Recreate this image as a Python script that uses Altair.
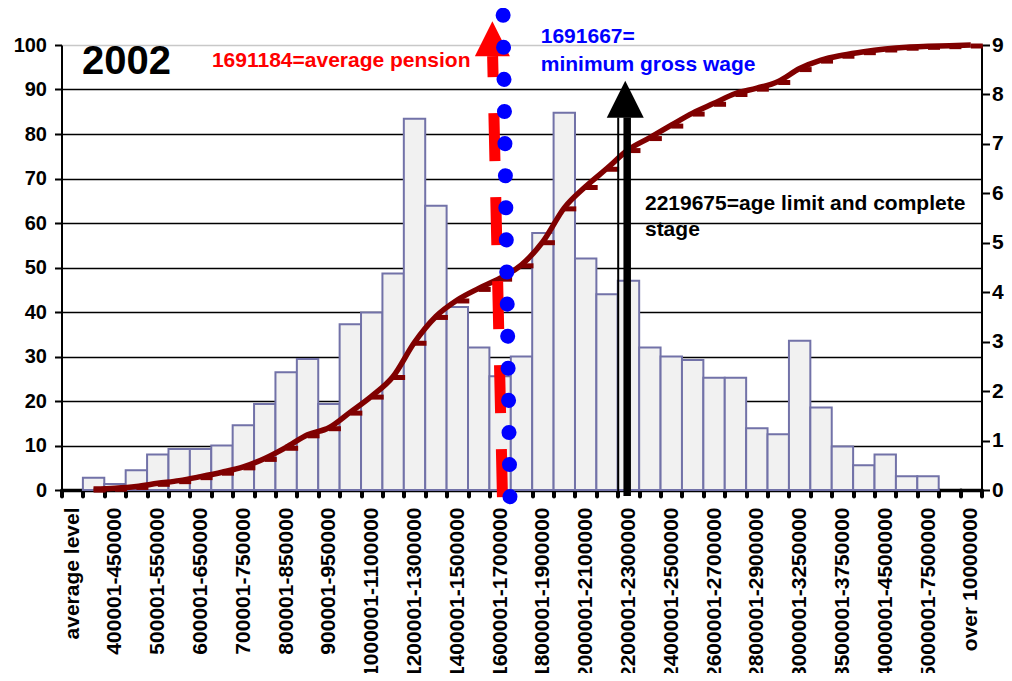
import json
import altair as alt
import pandas as pd

# ---------------- data ----------------
categories = [
    "average level", "350001-400000", "400001-450000", "450001-500000",
    "500001-550000", "550001-600000", "600001-650000", "650001-700000",
    "700001-750000", "750001-800000", "800001-850000", "850001-900000",
    "900001-950000", "950001-1000000", "1000001-1100000", "1100001-1200000",
    "1200001-1300000", "1300001-1400000", "1400001-1500000", "1500001-1600000",
    "1600001-1700000", "1700001-1800000", "1800001-1900000", "1900001-2000000",
    "2000001-2100000", "2100001-2200000", "2200001-2300000", "2300001-2400000",
    "2400001-2500000", "2500001-2600000", "2600001-2700000", "2700001-2800000",
    "2800001-2900000", "2900001-3000000", "3000001-3250000", "3250001-3500000",
    "3500001-3750000", "3750001-4000000", "4000001-4500000", "4500001-5000000",
    "5000001-7500000", "7500001-10000000", "over 10000000",
]

# share of pensioners in each band (%), right axis
bar_pct = [
    None, 0.25, 0.12, 0.40, 0.72, 0.83, 0.83, 0.90, 1.31, 1.74,
    2.38, 2.65, 1.74, 3.35, 3.59, 4.38, 7.51, 5.75, 3.70, 2.88,
    2.30, 2.70, 5.20, 7.63, 4.68, 3.96, 4.23, 2.88, 2.70, 2.63,
    2.27, 2.27, 1.25, 1.13, 3.02, 1.67, 0.88, 0.50, 0.72, 0.28,
    0.28, None, None,
]

# cumulative share (%), left axis
cum_pct = [
    None, 0.2, 0.4, 0.8, 1.5, 2.1, 3.0, 4.0, 5.2, 7.1,
    9.6, 12.4, 14.0, 17.5, 21.1, 25.5, 33.2, 39.0, 42.7, 45.3,
    47.6, 50.6, 55.8, 63.4, 68.2, 72.3, 76.5, 79.2, 82.0, 84.7,
    86.9, 89.1, 90.3, 91.8, 94.7, 96.6, 97.7, 98.5, 99.1, 99.5,
    99.7, 99.85, 100.0,
]

left_ticks = list(range(0, 101, 10))
right_ticks = list(range(0, 10))

# annotation anchors, in (category units, left-axis %)
pension_line = {"x": [20.61], "x2": [20.15], "y": [-1.58], "y2": [97.5]}
pension_head = {"x": [20.14], "y": [101.4]}
wage_line = {"x": [20.96], "x2": [20.64], "y": [-1.51], "y2": [106.8]}
age_thin = {"x": [26.02], "y": [-1.35], "y2": [83.7]}
age_thick = {"x": [26.44], "y": [-1.35], "y2": [83.7]}
age_head = {"x": [26.35], "y": [87.8]}
year_text = {"x": [0.96], "y": [93.4], "t": ["2002"]}
pension_text = {"x": [7.03], "y": [95.0], "t": ["1691184=average pension"]}
wage_text = {"x": [22.4, 22.4], "y": [100.5, 94.1], "t": ["1691667=", "minimum gross wage"]}
age_text = {"x": [27.27, 27.27], "y": [63.0, 57.0], "t": ["2219675=age limit and complete", "stage"]}

# ---------------- chart ----------------
FONT = "Liberation Sans"
N = len(categories)
df = pd.DataFrame({"idx": list(range(N)), "category": categories,
                   "pct": bar_pct, "cum": cum_pct})

xscale = alt.Scale(domain=[0, N], nice=False, zero=False)
yleft = alt.Scale(domain=[0, 100], nice=False, zero=False)
yright = alt.Scale(domain=[0, 9], nice=False, zero=False)

base = alt.Chart(df).transform_calculate(
    x0="datum.idx", x1="datum.idx + 1", xc="datum.idx + 0.5"
)

tick_axis = alt.Axis(
    orient="bottom", values=list(range(N + 1)), labels=False, title=None,
    grid=False, tickSize=6, tickWidth=4, tickCap="round", tickColor="black",
    domainColor="black", domainWidth=3.5,
)
label_axis = alt.Axis(
    orient="bottom", values=[i + 0.5 for i in range(0, N, 2)],
    labelExpr=json.dumps(categories) + "[floor(datum.value)]",
    ticks=False, tickSize=0, domain=False, grid=False, title=None,
    labelAngle=-90, labelPadding=17, labelFont=FONT, labelFontSize=21,
    labelFontWeight="bold", labelColor="black", labelOverlap=False,
    labelFlush=False,
)
left_axis = alt.Axis(
    orient="left", values=left_ticks, title=None, grid=True,
    gridColor={"condition": {"test": "datum.value === 100", "value": "#c8c8c8"},
               "value": "black"},
    gridWidth=1.6, tickSize=7, tickWidth=2, tickColor="black",
    domainColor="black", domainWidth=2, labelPadding=8, labelFont=FONT,
    labelFontSize=20, labelFontWeight="bold", labelColor="black",
)
right_axis = alt.Axis(
    orient="right", values=right_ticks, title=None, grid=False,
    tickSize=8, tickWidth=2, tickColor="black", domainColor="black",
    domainWidth=2, labelPadding=2, labelFont=FONT, labelFontSize=21,
    labelFontWeight="bold", labelColor="black",
)

bars = base.mark_bar(fill="#f1f1f1", stroke="#7272a8", strokeWidth=2).encode(
    x=alt.X("x0:Q", scale=xscale, axis=tick_axis),
    x2="x1:Q",
    y=alt.Y("pct:Q", scale=yright, axis=right_axis),
    y2=alt.datum(0),
)

line = base.mark_line(color="#800000", strokeWidth=5.5, interpolate="monotone").encode(
    x=alt.X("xc:Q", scale=xscale, axis=label_axis),
    y=alt.Y("cum:Q", scale=yleft, axis=left_axis),
)

markers = base.mark_tick(color="#800000", orient="horizontal", size=12,
                         thickness=5, opacity=1).encode(
    x=alt.X("xc:Q", scale=xscale, axis=None),
    y=alt.Y("cum:Q", scale=yleft, axis=None),
    xOffset=alt.value(6),
    yOffset=alt.value(1),
)


def ypos(field="y"):
    return alt.Y(f"{field}:Q", scale=yleft, axis=None)


def xpos(field="x"):
    return alt.X(f"{field}:Q", scale=xscale, axis=None)


red_rule = alt.Chart(pd.DataFrame(pension_line)).mark_rule(
    color="#ff0000", strokeWidth=11, strokeDash=[48, 36], strokeCap="butt"
).encode(x=xpos(), x2="x2:Q", y=ypos(), y2="y2:Q")

arrow_shape = "M0,-1L1,1L-1,1Z"
red_head = alt.Chart(pd.DataFrame(pension_head)).mark_point(
    shape=arrow_shape, filled=True, color="#ff0000", size=1225, opacity=1
).encode(x=xpos(), y=ypos())

blue_rule = alt.Chart(pd.DataFrame(wage_line)).mark_rule(
    color="#0000ff", strokeWidth=15, strokeDash=[0.1, 32], strokeCap="round"
).encode(x=xpos(), x2="x2:Q", y=ypos(), y2="y2:Q")

black_thin = alt.Chart(pd.DataFrame(age_thin)).mark_rule(
    color="black", strokeWidth=2
).encode(x=xpos(), y=ypos(), y2="y2:Q")

black_thick = alt.Chart(pd.DataFrame(age_thick)).mark_rule(
    color="black", strokeWidth=7.5
).encode(x=xpos(), y=ypos(), y2="y2:Q")

black_head = alt.Chart(pd.DataFrame(age_head)).mark_point(
    shape=arrow_shape, filled=True, color="black", size=1369, opacity=1
).encode(x=xpos(), y=ypos())


def text_layer(d, color, size):
    return alt.Chart(pd.DataFrame(d)).mark_text(
        align="left", baseline="alphabetic", font=FONT, fontWeight="bold",
        fontSize=size, color=color,
    ).encode(x=xpos(), y=ypos(), text="t:N")


chart = alt.layer(
    bars, line, markers,
    red_rule, red_head, blue_rule, black_thin, black_thick, black_head,
    text_layer(year_text, "black", 40),
    text_layer(pension_text, "#ff0000", 21),
    text_layer(wage_text, "#0000ff", 21),
    text_layer(age_text, "black", 21),
).resolve_scale(y="independent").resolve_axis(x="independent").properties(
    width=920, height=445,
    padding={"left": 53.5, "top": 37, "right": 22.5, "bottom": 183},
    autosize=alt.AutoSizeParams(type="none"),
).configure_view(stroke=None).configure(background="white")

chart.save("out.html", embed_options={"renderer": "svg", "actions": False})
